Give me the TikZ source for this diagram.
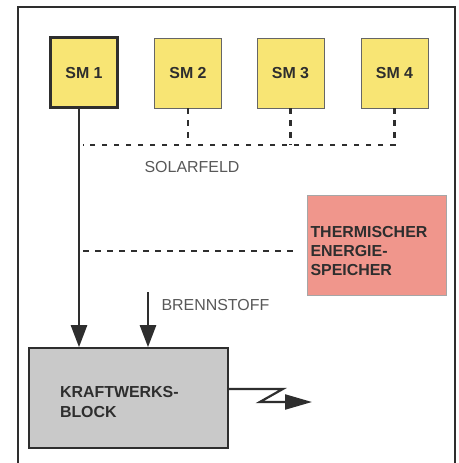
\documentclass[tikz,border=0pt]{standalone}
\usepackage{fontspec}
\setmainfont{Liberation Sans}
\usetikzlibrary{arrows.meta}
\definecolor{smYellow}{HTML}{F8E574}
\definecolor{tesRed}{HTML}{F0968C}
\definecolor{blockGray}{HTML}{C9C9C9}
\definecolor{inkGray}{HTML}{2E2E2E}
\newcommand{\lowered}[2]{\raisebox{0pt}[\dimexpr\height+#1\relax]{#2}}

\begin{document}
\begin{tikzpicture}[x=1bp, y=-1bp, every node/.style={font=\fontsize{16}{19.5}\selectfont\bfseries, text=inkGray},
    smbox/.style={draw=gray!80!black, line width=0.8bp, fill=smYellow, minimum width=67bp, minimum height=70bp, inner sep=0pt},
    dotline/.style={line width=2.3bp, dash pattern=on 5.5bp off 6.5bp, inkGray},
    flow/.style={line width=2.5bp, inkGray, -{Triangle[length=22bp,width=16bp]}}]
        \useasboundingbox (0,0) rectangle (459,463);
        \fill[white] (0,0) rectangle (459,463);
        \draw[line width=1.5bp, inkGray] (18,470) -- (18,7) -- (455,7) -- (455,470);
        % solar field
        \node[smbox, line width=3bp, draw=inkGray] (sm1) at (84,73) {SM 1};
        \node[smbox] (sm2) at (188,73) {\raisebox{-8bp}{SM 2}};
        \node[smbox] (sm3) at (290.5,73) {SM 3};
        \node[smbox] (sm4) at (394.5,73) {\raisebox{-7bp}{SM 4}};
        \coordinate (trunk) at ([xshift=-5bp]sm1.south);
        \draw[dotline] (sm4.south) |- ([xshift=4bp]trunk |- 0,145);
        \draw[dotline] (sm2.south) -- (sm2.south |- 0,145);
        \draw[dotline] (sm3.south) -- (sm3.south |- 0,145);
        \node[font=\fontsize{16}{19.5}\selectfont, text=inkGray!80] (solarfeld) at (192,167) {SOLARFELD};
        % storage
        \node[draw=gray!70, fill=tesRed, minimum width=139bp, minimum height=100bp, text width=132bp, inner sep=3bp, align=left] (tes) at (376.5,245) {\lowered{12bp}{THERMISCHER}\\ENERGIE-\\SPEICHER};
        \coordinate (tesin) at ([xshift=-14bp]tes.west |- 0,251);
        \draw[dotline] (tesin) -- ([xshift=4bp]trunk |- tesin);
        % power block
        \node[draw=inkGray, line width=1.6bp, fill=blockGray, minimum width=199bp, minimum height=100bp, text width=137bp, align=left, inner sep=0pt] (block) at (128.5,398) {\lowered{8bp}{KRAFTWERKS-}\\BLOCK};
        \draw[flow] (trunk) -- (trunk |- block.north);
        \coordinate (fuel) at (148,292);
        \draw[flow] (fuel) -- (fuel |- block.north);
        \node[anchor=west, font=\fontsize{16}{19.5}\selectfont, text=inkGray!80] (brennstoff) at (158,305) {BRENNSTOFF};
        % electricity
        \draw[line width=2.2bp, inkGray, -{Triangle[length=27bp,width=15bp]}] ([yshift=9bp]block.east) -- ++(54,0) -- ++(-23,13) -- (312,402);
      \end{tikzpicture}
\end{document}
